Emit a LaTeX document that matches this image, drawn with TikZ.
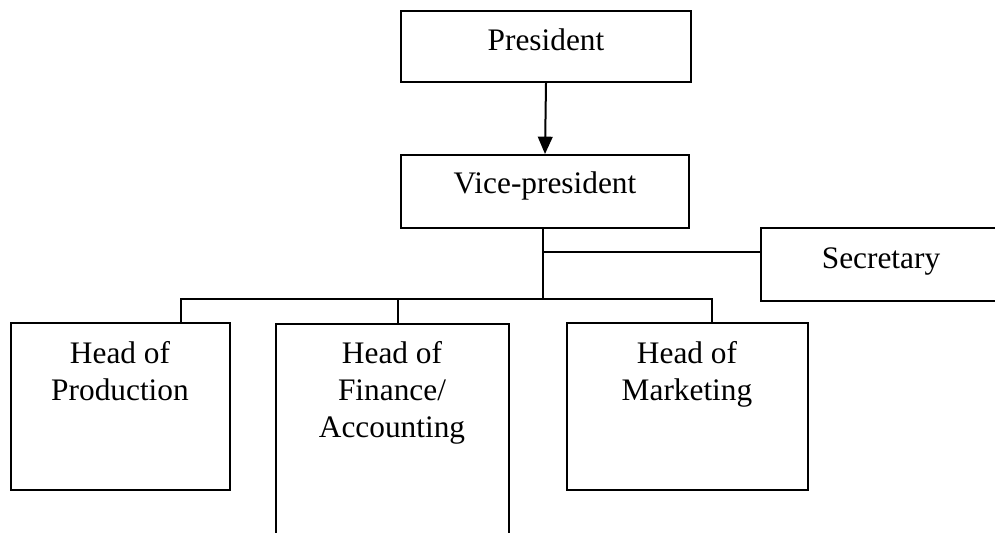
\documentclass[tikz,border=0pt]{standalone}
\usepackage{fontspec}
\setmainfont{Liberation Serif}
\usetikzlibrary{arrows.meta}
\begin{document}
\begin{tikzpicture}[x=0.75pt,y=-0.75pt,
  box/.style={draw,line width=1.5pt,rectangle,inner sep=0pt,anchor=north west},
  link/.style={line width=1.5pt},
  lbl/.style={font=\fontsize{23.5}{27.75}\selectfont,inner sep=0pt,anchor=base,align=center}]
\useasboundingbox (0,0) rectangle (995,532);

% boxes
\node[box,minimum width=217.5pt,minimum height=53.25pt] (pres) at (400,10) {};
\node[box,minimum width=216pt,minimum height=54.75pt] (vp) at (400,154) {};
\node[box,minimum width=187.5pt,minimum height=54.75pt] (sec) at (760,227) {};
\node[box,minimum width=164.25pt,minimum height=125.25pt] (prod) at (10,322) {};
\node[box,minimum width=174.75pt,minimum height=166.5pt] (fin) at (275,323) {};
\node[box,minimum width=180.75pt,minimum height=125.25pt] (mkt) at (566,322) {};

% labels (base anchor sits on the last line's baseline)
\node[lbl] (tpres) at (546,50) {President};
\node[lbl] (tvp) at (545,193) {Vice-president};
\node[lbl] (tsec) at (881,268) {Secretary};
\node[lbl] (tprod) at (120,400) {Head of\\Production};
\node[lbl] (tfin) at (392,437) {Head of\\Finance/\\Accounting};
\node[lbl] (tmkt) at (687,400) {Head of\\Marketing};

% junctions
\coordinate (jsec) at (543,252);
\coordinate (bus) at (543,299);
\coordinate (dp) at (181,299);
\coordinate (df) at (398,299);
\coordinate (dm) at (712,299);

% connectors
\draw[link,-{Triangle[length=13pt,width=11pt]}] (pres.south) -- (vp.north);
\draw[link] (vp.south -| bus) -- (bus);
\draw[link] (jsec) -- (jsec -| sec.west);
\draw[link] (prod.north -| dp) -- (dp) -- (dm) -- (mkt.north -| dm);
\draw[link] (df) -- (fin.north -| df);
\end{tikzpicture}
\end{document}
